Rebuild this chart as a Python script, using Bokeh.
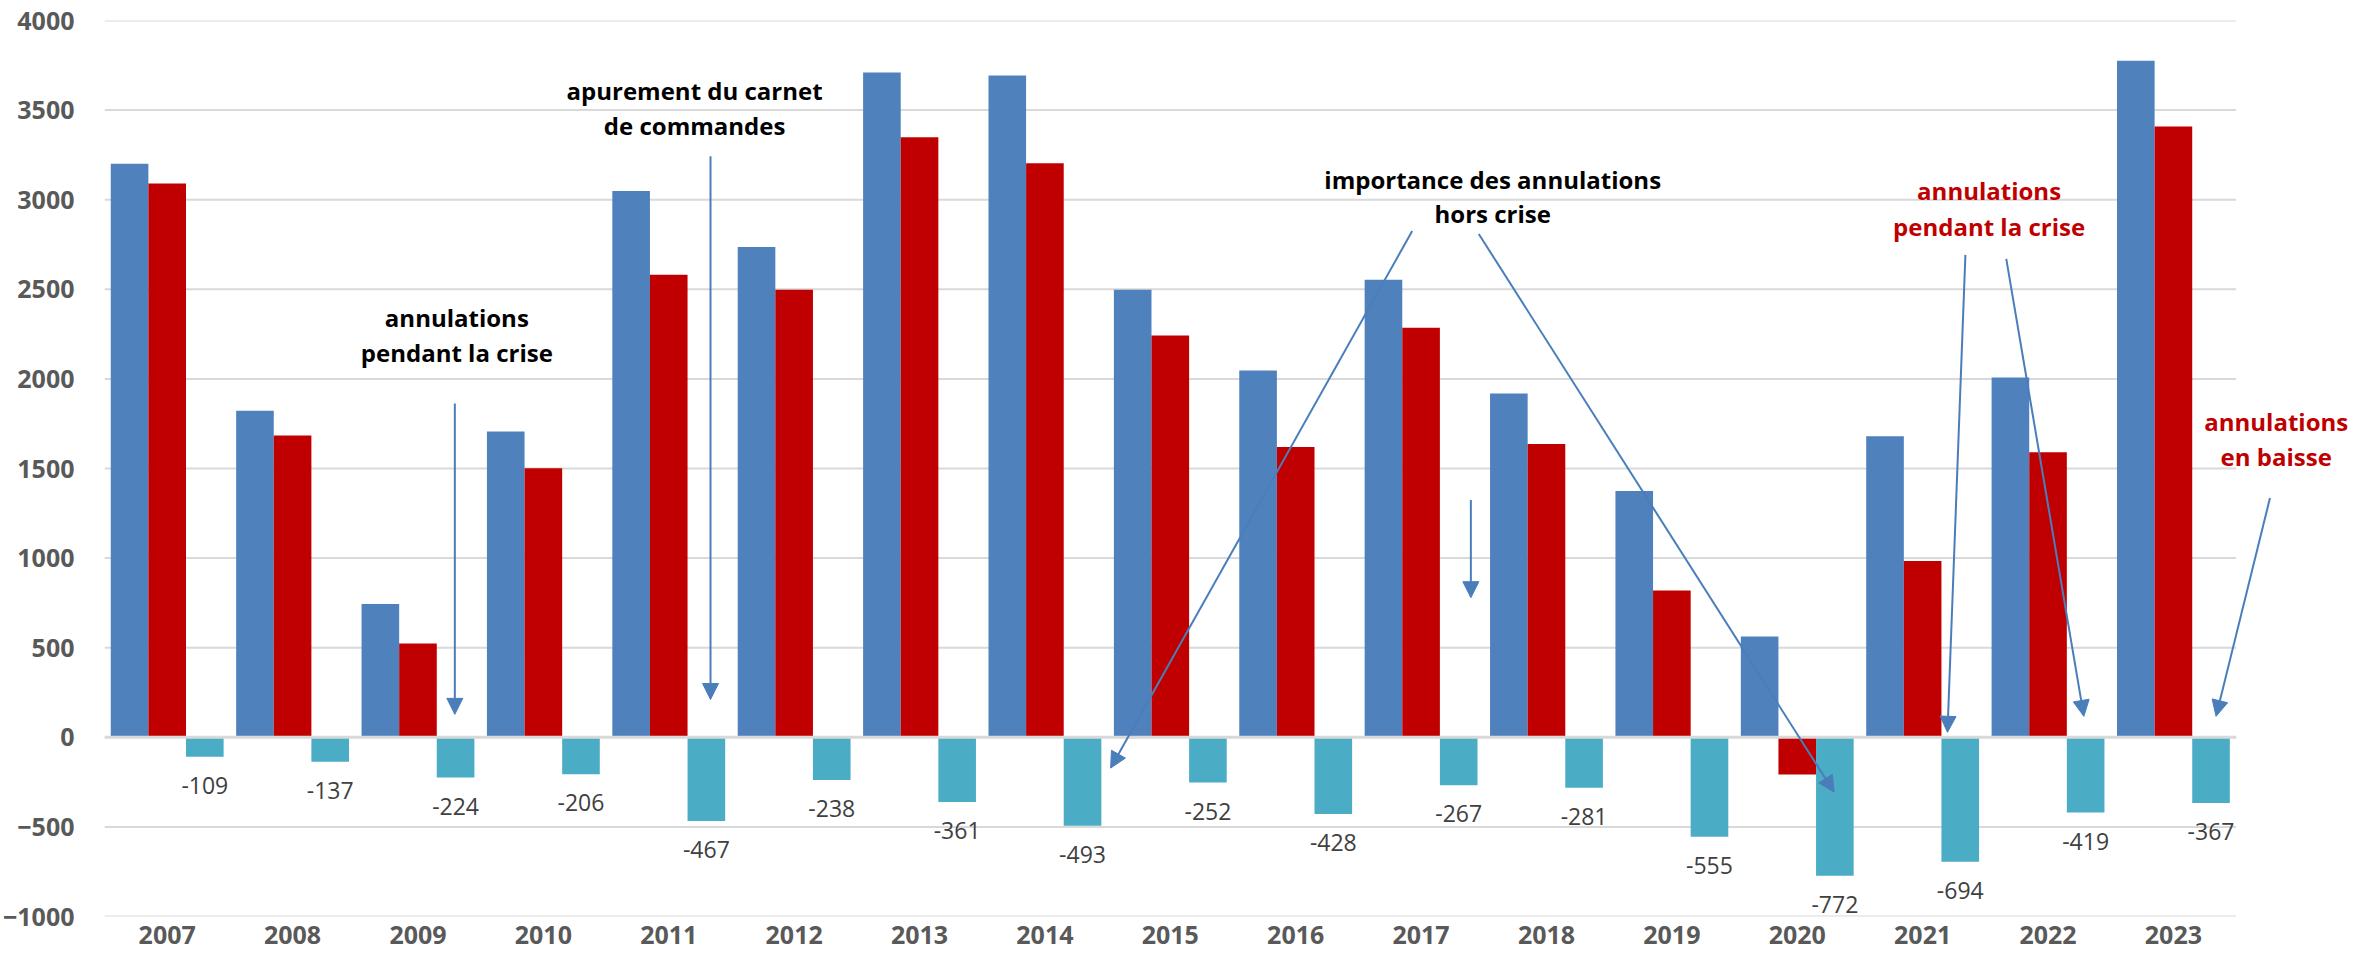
from bokeh.plotting import figure
from bokeh.models import (Range1d, Label, Arrow, NormalHead,
                          ColumnDataSource, FixedTicker)
from bokeh.transform import dodge
from bokeh.embed import file_html
from bokeh.resources import INLINE
from bokeh.core.properties import value

# ---------------- data ----------------
years = ["2007", "2008", "2009", "2010", "2011", "2012", "2013", "2014", "2015",
         "2016", "2017", "2018", "2019", "2020", "2021", "2022", "2023"]
commandes_brutes = [3201, 1822, 744, 1707, 3048, 2736, 3710, 3693, 2497,
                    2047, 2553, 1918, 1374, 562, 1680, 2008, 3776]
commandes_nettes = [3091, 1684, 523, 1502, 2581, 2497, 3348, 3203, 2242,
                    1620, 2286, 1637, 819, -207, 984, 1591, 3409]
annulations = [-109, -137, -224, -206, -467, -238, -361, -493, -252,
               -428, -267, -281, -555, -772, -694, -419, -367]
y_ticks = [-1000, -500, 0, 500, 1000, 1500, 2000, 2500, 3000, 3500, 4000]

BLUE = "#4F81BD"
RED = "#C00000"
CYAN = "#4BACC6"
ARROW = "#4A7EBB"
GRID = "#D9D9D9"
FONT = "Open Sans"

n = len(years)
xpos = [i + 0.5 for i in range(n)]

src = ColumnDataSource(dict(
    x=xpos,
    brut=commandes_brutes,
    net=commandes_nettes,
    ann=annulations,
    ann_lab=[str(v) for v in annulations],
    ann_lab_y=[v - 160 for v in annulations],
))

p = figure(x_range=Range1d(0, n + 1), y_range=Range1d(-1000, 4000),
           width=2361, height=952, output_backend="svg", toolbar_location=None,
           min_border_left=93, min_border_right=0, min_border_top=20,
           min_border_bottom=36)
p.outline_line_color = None
p.background_fill_color = "white"
p.border_fill_color = "white"
p.xgrid.grid_line_color = None
p.ygrid.grid_line_color = None

# horizontal gridlines spanning the categories only
p.segment(x0=[0] * len(y_ticks), x1=[n] * len(y_ticks), y0=y_ticks, y1=y_ticks,
          line_color=GRID, line_width=2)

p.vbar(x=dodge("x", -0.3), top="brut", width=0.3,
       source=src, fill_color=BLUE, line_color=None)
p.vbar(x=dodge("x", 0.0), top="net", width=0.3,
       source=src, fill_color=RED, line_color=None)
p.vbar(x=dodge("x", 0.3), top="ann", width=0.3,
       source=src, fill_color=CYAN, line_color=None)

# zero line
p.segment(x0=[0], x1=[n], y0=[0], y1=[0], line_color=GRID, line_width=3)

p.text(x=dodge("x", 0.3), y="ann_lab_y", text="ann_lab",
       source=src, text_align="center", text_baseline="middle",
       text_font=value(FONT), text_font_size="23px", text_color="#404040")

# axes
p.yaxis.ticker = FixedTicker(ticks=y_ticks)
p.xaxis.ticker = FixedTicker(ticks=xpos)
p.xaxis.major_label_overrides = {x: y for x, y in zip(xpos, years)}
for ax in (p.xaxis, p.yaxis):
    ax.axis_line_color = None
    ax.major_tick_line_color = None
    ax.minor_tick_line_color = None
    ax.major_label_text_font = FONT
    ax.major_label_text_font_style = "bold"
    ax.major_label_text_font_size = "25px"
    ax.major_label_text_color = "#595959"
p.yaxis.major_label_standoff = 24
p.xaxis.major_label_standoff = 3

# annotations (text lines: text, x, y, colour)
notes = [
    ("annulations", 2.81, 2341, "black"),
    ("pendant la crise", 2.81, 2147, "black"),
    ("apurement du carnet", 4.706, 3610, "black"),
    ("de commandes", 4.706, 3415, "black"),
    ("importance des annulations", 11.071, 3115, "black"),
    ("hors crise", 11.071, 2925, "black"),
    ("annulations", 15.03, 3053, RED),
    ("pendant la crise", 15.03, 2853, RED),
    ("annulations", 17.32, 1763, RED),
    ("en baisse", 17.32, 1568, RED),
]
for t, x, y, c in notes:
    p.add_layout(Label(x=x, y=y, text=t, text_align="center",
                       text_baseline="middle", text_font=FONT,
                       text_font_style="bold", text_font_size="24px",
                       text_color=c))

arrows = [
    (2.794, 1863, 2.794, 128),
    (4.833, 3242, 4.833, 211),
    (10.429, 2825, 8.024, -172),
    (10.960, 2809, 13.794, -306),
    (10.897, 1324, 10.897, 779),
    (14.841, 2692, 14.698, 28),
    (15.167, 2670, 15.786, 117),
    (17.27, 1335, 16.84, 117),
]
for xs, ys, xe, ye in arrows:
    p.add_layout(Arrow(end=NormalHead(size=16, fill_color=ARROW,
                                      line_color=ARROW),
                       x_start=xs, y_start=ys, x_end=xe, y_end=ye,
                       line_color=ARROW, line_width=2))

open("out.html", "w").write(file_html(p, INLINE))
